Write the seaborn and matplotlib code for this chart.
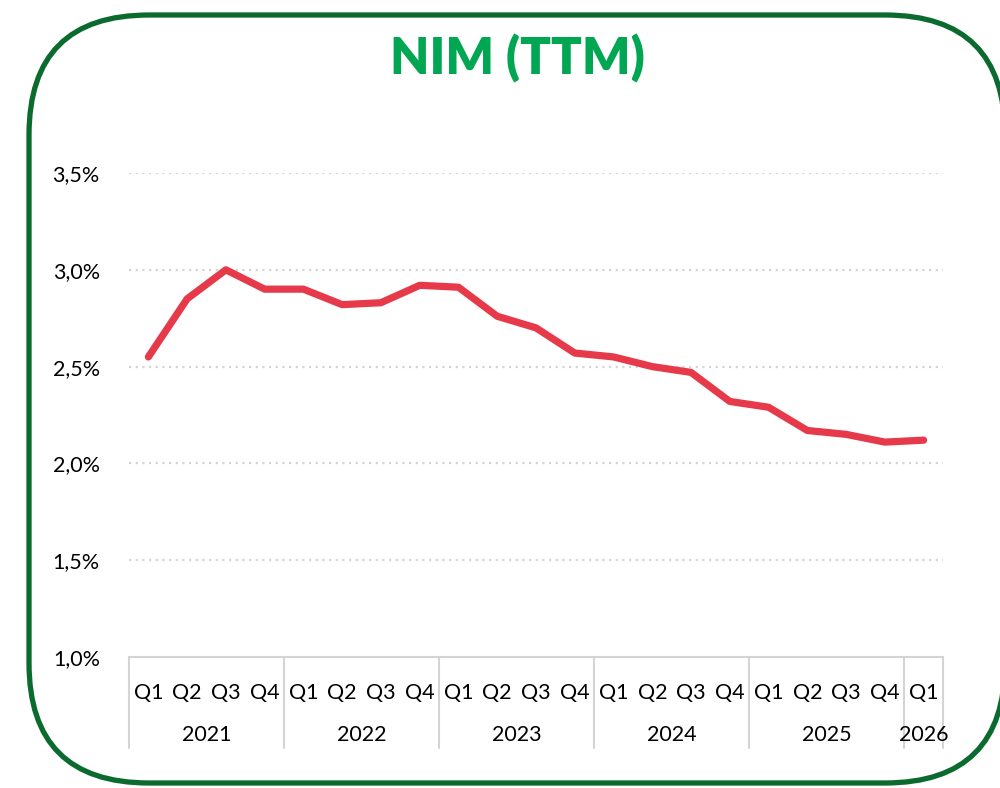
import matplotlib
matplotlib.use("Agg")
import matplotlib.pyplot as plt
import matplotlib.transforms as mtransforms
from matplotlib.patches import FancyBboxPatch
from matplotlib.ticker import FuncFormatter
import pandas as pd
import seaborn as sns

# data
anos = ["2021", "2022", "2023", "2024", "2025", "2026"]
trimestres_por_ano = [4, 4, 4, 4, 4, 1]
trimestres = ["Q1", "Q2", "Q3", "Q4"] * 5 + ["Q1"]
nim = [2.55, 2.85, 3.00, 2.90, 2.90, 2.82, 2.83, 2.92, 2.91, 2.76, 2.70,
       2.57, 2.55, 2.50, 2.47, 2.32, 2.29, 2.17, 2.15, 2.11, 2.12]
ticks_y = [1.0, 1.5, 2.0, 2.5, 3.0, 3.5]

VERDE_BORDE = "#0b6b2e"
VERDE_TITULO = "#00a651"
ROJO = "#e63a4b"
GRIS = "#d4d4d4"

sns.set_style("white")
plt.rcParams["font.family"] = ["Lato", "DejaVu Sans"]

df = pd.DataFrame({"pos": range(len(nim)), "nim": nim})

fig = plt.figure(figsize=(10, 7.88), dpi=100)

# fondo con el marco redondeado (coordenadas en pixeles, y hacia arriba)
bg = fig.add_axes([0, 0, 1, 1])
bg.set_xlim(0, 1000)
bg.set_ylim(0, 788)
bg.axis("off")
# relleno blanco para que Agg no recorte mal las curvas que salen de la figura
bg.add_patch(FancyBboxPatch((29, 5), 976, 768,
                            boxstyle="round,pad=0,rounding_size=120",
                            facecolor="white", edgecolor=VERDE_BORDE,
                            linewidth=3.8))
bg.text(517, 788 - 58, "NIM (TTM)", ha="center", va="center", fontsize=36.5,
        fontweight="heavy", color=VERDE_TITULO)

ax = fig.add_axes([129 / 1000, 1 - 657 / 788, (943 - 129) / 1000, (657 - 173) / 788])
ax.patch.set_alpha(0)
sns.lineplot(data=df, x="pos", y="nim", ax=ax, color=ROJO, linewidth=5.2,
             solid_capstyle="round", solid_joinstyle="round")

ax.set_xlim(-0.5, len(nim) - 0.5)
ax.set_ylim(ticks_y[0], ticks_y[-1])
ax.set_yticks(ticks_y)
ax.yaxis.set_major_formatter(FuncFormatter(lambda v, p: f"{v:.1f}%".replace(".", ",")))
ax.set_xticks(range(len(nim)))
ax.set_xticklabels(trimestres)
ax.tick_params(axis="x", length=0, pad=19, labelsize=15.5, labelcolor="#000000")
ax.tick_params(axis="y", length=0, pad=21, labelsize=15.5, labelcolor="#000000")
ax.set_xlabel("")
ax.set_ylabel("")

for y in ticks_y[1:]:
    ax.axhline(y, color=GRIS, linestyle=(0, (1, 2)), linewidth=1.6, zorder=0)

for s in ["top", "right", "left"]:
    ax.spines[s].set_visible(False)
ax.spines["bottom"].set_color(GRIS)
ax.spines["bottom"].set_linewidth(1.5)

# eje de categorias multinivel
trans = mtransforms.blended_transform_factory(ax.transData, ax.transAxes)
fondo = -(748 - 657) / (657 - 173)
inicio = 0
separadores = [-0.5]
for ano, n in zip(anos, trimestres_por_ano):
    centro = inicio + (n - 1) / 2
    ax.text(centro, -(735 - 657) / (657 - 173), ano, transform=trans,
            ha="center", va="center", fontsize=15.5, color="#000000")
    inicio += n
    separadores.append(inicio - 0.5)
for x in separadores:
    ax.plot([x, x], [0, fondo], transform=trans, color=GRIS, linewidth=1.5,
            clip_on=False)

fig.savefig("out.png", dpi=100)
